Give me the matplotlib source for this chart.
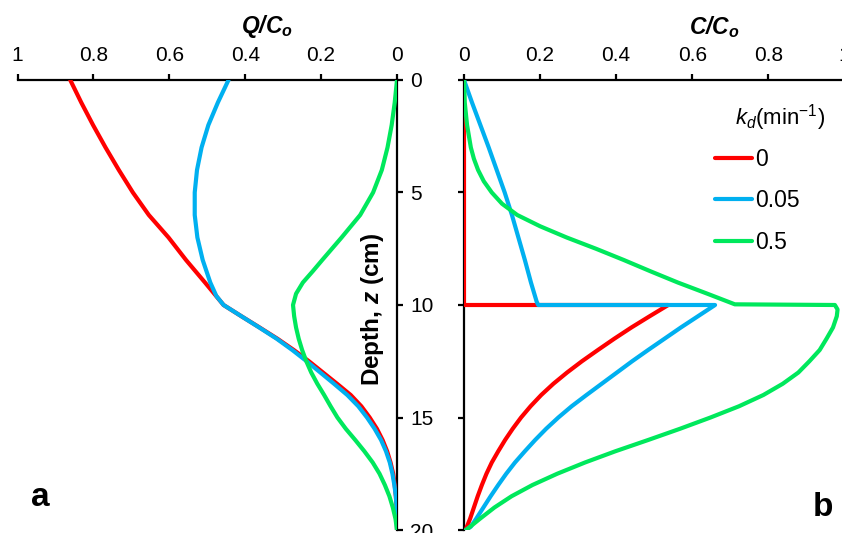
import matplotlib
matplotlib.use('Agg')
import matplotlib.pyplot as plt

plt.rcParams['font.family'] = ['Liberation Sans', 'DejaVu Sans']
plt.rcParams['mathtext.fontset'] = 'custom'
plt.rcParams['mathtext.rm'] = 'Liberation Sans'
plt.rcParams['mathtext.it'] = 'Liberation Sans:italic'
plt.rcParams['mathtext.bf'] = 'Liberation Sans:bold'
plt.rcParams['mathtext.bfit'] = 'Liberation Sans:bold:italic'

RED = '#FF0000'
BLUE = '#00B0F0'
GREEN = '#00E85C'

# panel a: sorbed Q/Co vs depth (cm)
qa_red_z = [0, 1, 2, 3, 4, 5, 6, 7, 8, 9, 10, 10.5, 11, 11.5, 12, 12.5, 13, 13.5, 14, 14.5,
            15, 15.5, 16, 16.5, 17, 17.5, 18, 18.5, 19, 20]
qa_red = [0.861, 0.832, 0.801, 0.768, 0.733, 0.696, 0.654, 0.602, 0.556, 0.506, 0.457, 0.41,
          0.362, 0.315, 0.272, 0.232, 0.195, 0.158, 0.122, 0.094, 0.072, 0.053, 0.038, 0.026,
          0.017, 0.010, 0.006, 0.003, 0.001, 0]
qa_blue_z = [0, 1, 2, 3, 4, 5, 6, 7, 8, 9, 9.6, 10, 10.5, 11, 11.5, 12, 12.5, 13, 13.5, 14,
             14.5, 15, 15.5, 16, 16.5, 17, 17.5, 18, 18.5, 19, 20]
qa_blue = [0.444, 0.472, 0.497, 0.515, 0.527, 0.533, 0.533, 0.526, 0.512, 0.492, 0.476, 0.457,
           0.41, 0.363, 0.317, 0.276, 0.238, 0.202, 0.166, 0.131, 0.102, 0.079, 0.059, 0.042,
           0.029, 0.019, 0.012, 0.007, 0.003, 0.001, 0]
qa_green_z = [0, 1, 2, 3, 4, 5, 6, 7, 8, 8.5, 9, 9.5, 10, 10.5, 11, 11.5, 12, 12.5, 13, 13.5,
              14, 14.5, 15, 15.5, 16, 16.5, 17, 17.5, 18, 18.5, 19, 19.5, 20]
qa_green = [0, 0.006, 0.014, 0.025, 0.040, 0.063, 0.097, 0.146, 0.197, 0.222, 0.248, 0.266,
            0.274, 0.271, 0.266, 0.259, 0.250, 0.239, 0.226, 0.210, 0.192, 0.175, 0.157, 0.135,
            0.110, 0.086, 0.064, 0.046, 0.032, 0.020, 0.011, 0.004, 0]

# panel b: solution C/Co vs depth (cm)
cb_red_z = [0, 10, 10, 10.5, 11, 11.5, 12, 12.5, 13, 13.5, 14, 14.5, 15, 15.5, 16, 16.5, 17,
            17.5, 18, 18.5, 19, 19.5, 20]
cb_red = [0, 0, 0.537, 0.488, 0.44, 0.395, 0.352, 0.31, 0.271, 0.235, 0.203, 0.175, 0.150,
          0.128, 0.108, 0.090, 0.073, 0.059, 0.047, 0.036, 0.026, 0.016, 0.004]
cb_blue_z = [0, 1, 2, 3, 4, 5, 6, 7, 8, 9, 9.85, 10, 10, 10.5, 11, 11.5, 12, 12.5, 13, 13.5,
             14, 14.5, 15, 15.5, 16, 16.5, 17, 17.5, 18, 18.5, 19, 19.5, 19.85, 20]
cb_blue = [0, 0.021, 0.043, 0.065, 0.086, 0.107, 0.126, 0.143, 0.160, 0.176, 0.191, 0.195,
           0.660, 0.615, 0.570, 0.527, 0.484, 0.442, 0.402, 0.362, 0.322, 0.283, 0.248, 0.216,
           0.187, 0.160, 0.134, 0.111, 0.090, 0.070, 0.051, 0.032, 0.018, 0.005]
cb_green_z = [0, 1, 2, 3, 3.5, 4, 4.5, 5, 5.5, 6, 6.5, 7, 7.5, 8, 8.5, 9, 9.5, 9.97, 10, 10.2,
              10.5, 11, 11.5, 12, 12.5, 13, 13.5, 14, 14.5, 15, 15.5, 16, 16.5, 17, 17.5, 18,
              18.5, 19, 19.5, 19.8, 20]
cb_green = [0, 0.002, 0.008, 0.018, 0.026, 0.037, 0.052, 0.073, 0.100, 0.140, 0.200, 0.270,
            0.347, 0.420, 0.490, 0.562, 0.640, 0.712, 0.975, 0.982, 0.980, 0.970, 0.953, 0.935,
            0.908, 0.879, 0.838, 0.787, 0.723, 0.648, 0.568, 0.484, 0.398, 0.318, 0.245, 0.180,
            0.125, 0.080, 0.042, 0.020, 0.005]

kd_labels = ['0', '0.05', '0.5']
depth_ticks = [0, 5, 10, 15, 20]

W, H = 842, 533
fig = plt.figure(figsize=(W / 100, H / 100), dpi=100)


def px_rect(x0, y0, x1, y1):
    return [x0 / W, 1 - y1 / H, (x1 - x0) / W, (y1 - y0) / H]


ax_a = fig.add_axes(px_rect(17.5, 80, 397, 530))
ax_b = fig.add_axes(px_rect(464, 80, 844.4, 530))

lw = 3
ax_a.plot(qa_red, qa_red_z, color=RED, lw=lw, solid_capstyle='round', zorder=3)
ax_a.plot(qa_blue, qa_blue_z, color=BLUE, lw=lw, solid_capstyle='round', zorder=3)
ax_a.plot(qa_green, qa_green_z, color=GREEN, lw=lw, solid_capstyle='round', zorder=3)

lines = []
lines += ax_b.plot(cb_red, cb_red_z, color=RED, lw=lw, solid_capstyle='round', zorder=3)
lines += ax_b.plot(cb_blue, cb_blue_z, color=BLUE, lw=lw, solid_capstyle='round', zorder=3)
lines += ax_b.plot(cb_green, cb_green_z, color=GREEN, lw=lw, solid_capstyle='round', zorder=3)

for ax in (ax_a, ax_b):
    ax.set_ylim(20, 0)
    ax.set_yticks(depth_ticks)
    ax.xaxis.set_ticks_position('top')
    ax.spines['bottom'].set_visible(False)
    for s in ax.spines.values():
        s.set_linewidth(1.6)
    ax.tick_params(direction='out', length=4.5, width=1.6, labelsize=15)
    ax.tick_params(axis='x', pad=6)

ax_a.set_xlim(1, 0)
ax_a.set_xticks([1, 0.8, 0.6, 0.4, 0.2, 0])
ax_a.set_xticklabels(['1', '0.8', '0.6', '0.4', '0.2', '0'])
ax_a.spines['left'].set_visible(False)
ax_a.yaxis.set_ticks_position('right')
ax_a.tick_params(axis='y', pad=5)

ax_b.set_xlim(0, 1)
ax_b.set_xticks([0, 0.2, 0.4, 0.6, 0.8, 1])
ax_b.set_xticklabels(['0', '0.2', '0.4', '0.6', '0.8', '1'])
ax_b.spines['right'].set_visible(False)
ax_b.yaxis.set_ticks_position('left')
ax_b.tick_params(axis='y', labelleft=False)

fig.text(267 / W, 1 - 26 / H, r'$\mathbfit{Q/C_o}$', fontsize=16.5, ha='center', va='center')
fig.text(714 / W, 1 - 27 / H, r'$\mathbfit{C/C_o}$', fontsize=16.5, ha='center', va='center')
fig.text(373 / W, 1 - 309 / H, r'Depth, $\mathbfit{z}$ (cm)', fontsize=17.5, fontweight='bold',
         rotation=90, ha='center', va='center')

fig.text(40.5 / W, 1 - 497 / H, 'a', fontsize=24, fontweight='bold', ha='center', va='center')
fig.text(823 / W, 1 - 507 / H, 'b', fontsize=24, fontweight='bold', ha='center', va='center')

fig.text(735 / W, 1 - 118 / H, r'$k_d$(min$^{\mathregular{-1}}$)', fontsize=16, ha='left',
         va='center')
ax_b.legend(lines, kd_labels, loc='upper left', bbox_to_anchor=(715 / W, 1 - 148 / H),
            bbox_transform=fig.transFigure, frameon=False, fontsize=16.5, handlelength=1.6,
            handletextpad=0.17, labelspacing=0.8, borderpad=0, borderaxespad=0)

fig.savefig('out.png', dpi=100)
